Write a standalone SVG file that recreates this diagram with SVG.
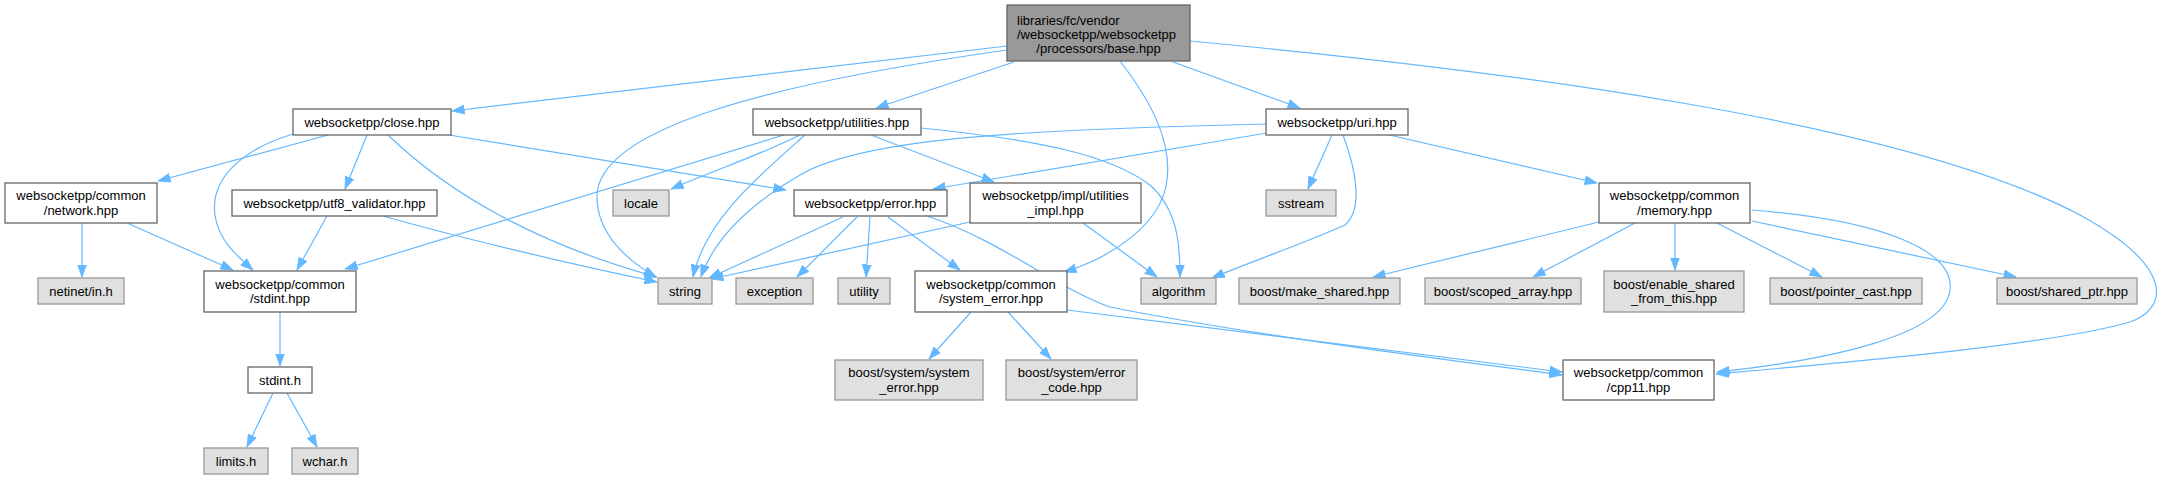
<svg xmlns="http://www.w3.org/2000/svg" width="2169" height="480" viewBox="0 0 2169 480">
<defs>
<style>
text{font-family:"Liberation Sans",Arial,Helvetica,sans-serif;font-size:13px;fill:#000;text-anchor:middle}
text.l{text-anchor:start}
.n rect{fill:#fff;stroke:#666;stroke-width:1.3}
.g rect{fill:#e0e0e0;stroke:#999;stroke-width:1.3}
.r rect{fill:#999;stroke:#666;stroke-width:1.3}
#edges path{fill:none;stroke:#63b8ff;stroke-width:1.2;marker-end:url(#ah)}
</style>
<marker id="ah" markerUnits="userSpaceOnUse" markerWidth="13" markerHeight="10" refX="12.5" refY="5" orient="auto">
<path d="M0,0.5 L12.5,5 L0,9.5 z" fill="#63b8ff" stroke="#63b8ff" stroke-width="0.8"/>
</marker>
</defs>
<rect width="2169" height="480" fill="#fff"/>
<g id="edges">
<path d="M1007,46 L452,111"/>
<path d="M1007,50 C760,85 600,130 597,195 C596,235 630,262 656,277"/>
<path d="M1014,62 L876,108"/>
<path d="M1173,62 L1300,108"/>
<path d="M1120,61 C1150,100 1172,140 1167,180 C1162,225 1110,258 1064,272"/>
<path d="M1190,41 C1500,70 1900,120 2080,215 C2180,270 2165,310 2130,322 C2050,345 1850,362 1716,374"/>
<path d="M328,135 L158,181"/>
<path d="M293,134 C240,150 210,180 215,215 C218,240 238,257 253,270"/>
<path d="M367,135 L345,189"/>
<path d="M388,135 C450,195 540,245 657,277"/>
<path d="M449,135 L786,190"/>
<path d="M800,135 C760,155 720,168 671,189"/>
<path d="M784,135 L345,269"/>
<path d="M805,135 C760,175 705,220 693,277"/>
<path d="M871,135 L994,182"/>
<path d="M921,128 C1040,140 1110,155 1150,185 C1178,210 1180,245 1180,277"/>
<path d="M1083,223 L1157,277"/>
<path d="M970,222 L711,279"/>
<path d="M1267,133 L933,189"/>
<path d="M1267,124 C1000,130 860,140 800,175 C740,210 712,245 701,277"/>
<path d="M1332,135 L1308,189"/>
<path d="M1343,135 C1358,175 1362,210 1345,225 C1300,245 1250,262 1212,278"/>
<path d="M1385,134 L1597,183"/>
<path d="M82,223 L82,277"/>
<path d="M127,223 L233,270"/>
<path d="M327,216 L297,270"/>
<path d="M383,216 C450,235 560,262 657,282"/>
<path d="M280,312 L280,366"/>
<path d="M273,393 L247,447"/>
<path d="M287,393 L317,447"/>
<path d="M843,217 L709,278"/>
<path d="M857,217 L797,277"/>
<path d="M870,217 L866,277"/>
<path d="M888,217 L960,270"/>
<path d="M927,216 C1000,240 1060,290 1110,307 C1250,335 1450,360 1562,375"/>
<path d="M1067,310 L1562,372"/>
<path d="M971,312 L929,359"/>
<path d="M1008,312 L1051,359"/>
<path d="M1599,222 L1373,277"/>
<path d="M1635,223 L1533,277"/>
<path d="M1675,223 L1675,270"/>
<path d="M1717,223 L1822,277"/>
<path d="M1752,221 L2016,277"/>
<path d="M1752,210 C1880,220 1955,250 1950,290 C1945,335 1830,360 1717,372"/>
</g>
<g id="n_base" class="r"><rect x="1007" y="5" width="183" height="56"/><text class="l" x="1017" y="24.6">libraries/fc/vendor</text><text class="l" x="1017" y="39">/websocketpp/websocketpp</text><text x="1098.5" y="53.4">/processors/base.hpp</text></g>
<g id="n_close" class="n"><rect x="293" y="109" width="158" height="26"/><text x="372" y="126.6">websocketpp/close.hpp</text></g>
<g id="n_utilities" class="n"><rect x="753" y="109" width="168" height="26"/><text x="837" y="126.6">websocketpp/utilities.hpp</text></g>
<g id="n_uri" class="n"><rect x="1266" y="109" width="142" height="26"/><text x="1337" y="126.6">websocketpp/uri.hpp</text></g>
<g id="n_network" class="n"><rect x="5" y="183" width="152" height="40"/><text x="81" y="200.3">websocketpp/common</text><text x="81" y="215">/network.hpp</text></g>
<g id="n_utf8" class="n"><rect x="232" y="190" width="205" height="26"/><text x="334.5" y="207.6">websocketpp/utf8_validator.hpp</text></g>
<g id="n_locale" class="g"><rect x="613" y="190" width="56" height="26"/><text x="641" y="207.6">locale</text></g>
<g id="n_error" class="n"><rect x="794" y="190" width="153" height="26"/><text x="870.5" y="207.6">websocketpp/error.hpp</text></g>
<g id="n_utilities_impl" class="n"><rect x="970" y="183" width="171" height="40"/><text x="1055.5" y="200.3">websocketpp/impl/utilities</text><text x="1055.5" y="215">_impl.hpp</text></g>
<g id="n_sstream" class="g"><rect x="1266" y="190" width="70" height="26"/><text x="1301" y="207.6">sstream</text></g>
<g id="n_memory" class="n"><rect x="1599" y="183" width="151" height="40"/><text x="1674.5" y="200.3">websocketpp/common</text><text x="1674.5" y="215">/memory.hpp</text></g>
<g id="n_netinet" class="g"><rect x="38" y="278" width="86" height="26"/><text x="81" y="295.6">netinet/in.h</text></g>
<g id="n_stdint_hpp" class="n"><rect x="204" y="271" width="152" height="41"/><text x="280" y="288.7">websocketpp/common</text><text x="280" y="303.4">/stdint.hpp</text></g>
<g id="n_string" class="g"><rect x="658" y="278" width="54" height="26"/><text x="685" y="295.6">string</text></g>
<g id="n_exception" class="g"><rect x="736" y="278" width="77" height="26"/><text x="774.5" y="295.6">exception</text></g>
<g id="n_utility" class="g"><rect x="838" y="278" width="52" height="26"/><text x="864" y="295.6">utility</text></g>
<g id="n_system_error" class="n"><rect x="915" y="271" width="152" height="41"/><text x="991" y="288.7">websocketpp/common</text><text x="991" y="303.4">/system_error.hpp</text></g>
<g id="n_algorithm" class="g"><rect x="1141" y="278" width="75" height="26"/><text x="1178.5" y="295.6">algorithm</text></g>
<g id="n_make_shared" class="g"><rect x="1239" y="278" width="161" height="26"/><text x="1319.5" y="295.6">boost/make_shared.hpp</text></g>
<g id="n_scoped_array" class="g"><rect x="1425" y="278" width="156" height="26"/><text x="1503" y="295.6">boost/scoped_array.hpp</text></g>
<g id="n_enable_shared" class="g"><rect x="1604" y="271" width="140" height="41"/><text x="1674" y="288.7">boost/enable_shared</text><text x="1674" y="303.4">_from_this.hpp</text></g>
<g id="n_pointer_cast" class="g"><rect x="1770" y="278" width="152" height="26"/><text x="1846" y="295.6">boost/pointer_cast.hpp</text></g>
<g id="n_shared_ptr" class="g"><rect x="1997" y="278" width="140" height="26"/><text x="2067" y="295.6">boost/shared_ptr.hpp</text></g>
<g id="n_stdint_h" class="n"><rect x="248" y="367" width="64" height="26"/><text x="280" y="384.6">stdint.h</text></g>
<g id="n_boost_system_error" class="g"><rect x="835" y="360" width="148" height="40"/><text x="909" y="377.3">boost/system/system</text><text x="909" y="392">_error.hpp</text></g>
<g id="n_error_code" class="g"><rect x="1006" y="360" width="131" height="40"/><text x="1071.5" y="377.3">boost/system/error</text><text x="1071.5" y="392">_code.hpp</text></g>
<g id="n_cpp11" class="n"><rect x="1563" y="360" width="151" height="40"/><text x="1638.5" y="377.3">websocketpp/common</text><text x="1638.5" y="392">/cpp11.hpp</text></g>
<g id="n_limits" class="g"><rect x="204" y="448" width="64" height="26"/><text x="236" y="465.6">limits.h</text></g>
<g id="n_wchar" class="g"><rect x="292" y="448" width="66" height="26"/><text x="325" y="465.6">wchar.h</text></g>
</svg>
